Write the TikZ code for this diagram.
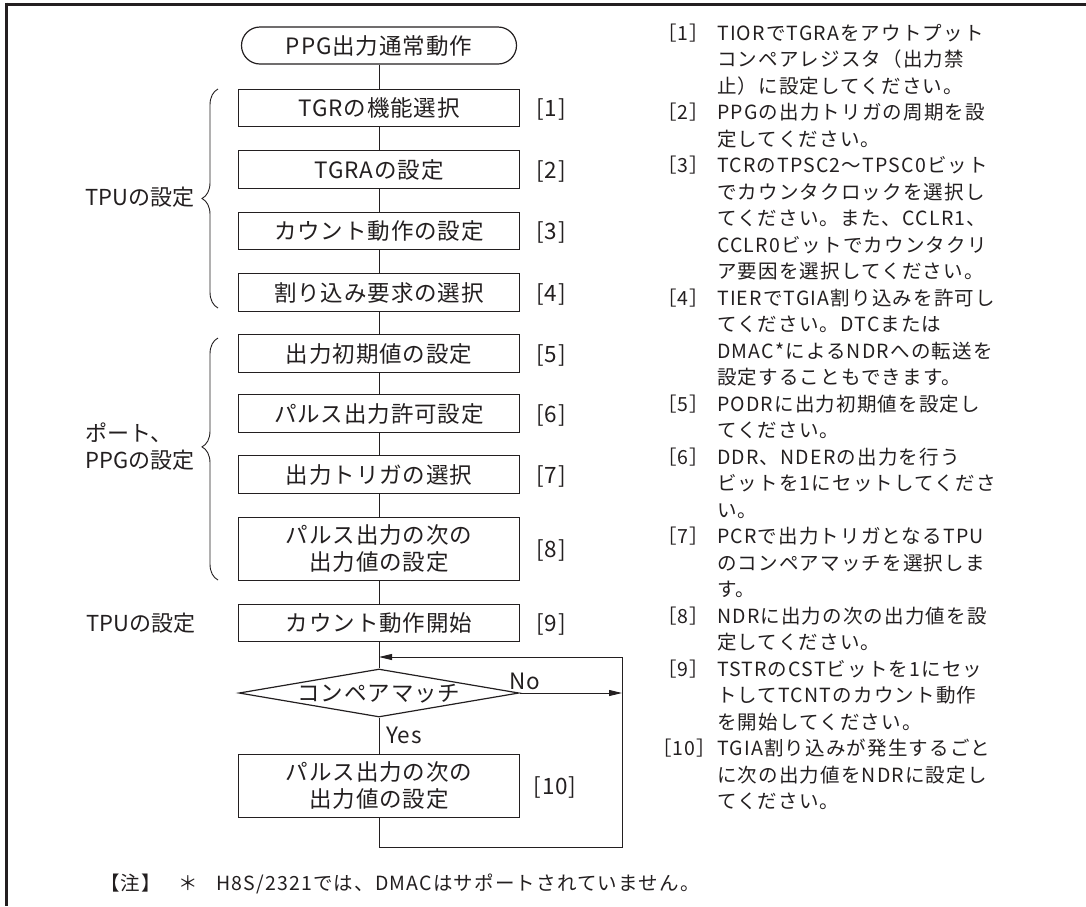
\documentclass[tikz,border=0pt]{standalone}
\usepackage{fontspec}
\usetikzlibrary{shapes.geometric,arrows.meta,decorations.pathreplacing}
\newfontfamily\jpfc[LetterSpace=4]{Noto Sans CJK JP}
\newfontfamily\jpgl{Noto Sans CJK JP}
\newfontfamily\jptx[LetterSpace=6]{Noto Sans CJK JP}
\newcommand\fcfont{\jpfc\fontsize{22.5pt}{27pt}\selectfont}
\newcommand\glfont{\jpgl\fontsize{22pt}{27pt}\selectfont}
\newcommand\txfont{\jptx\fontsize{19.5pt}{26.5pt}\selectfont}
\definecolor{ink}{HTML}{231F20}
\tikzset{
  fc/.style={font=\fcfont, text=ink, inner sep=0pt},
  slfc/.style={text height=19.8pt, text depth=2.7pt},
  tx/.style={font=\txfont, text=ink, inner sep=0pt, anchor=west, text height=17.2pt, text depth=2.3pt},
  bx/.style={fc, draw=ink, line width=1.2pt, minimum width=281pt, align=center},
  sbx/.style={bx, slfc, minimum height=37.5pt},
  dbx/.style={bx, minimum height=63pt},
  term/.style={fc, slfc, draw=ink, line width=1.2pt, rounded corners=18.5pt, minimum width=275pt, minimum height=37pt},
  dec/.style={fc, slfc, draw=ink, line width=1.2pt, diamond, aspect=5.83, minimum width=280pt, minimum height=48pt},
  ln/.style={draw=ink, line width=0.9pt},
  arr/.style={-{Triangle[length=13pt,width=6pt]}},
  brc/.style={draw=ink, line width=0.9pt, decorate},
  lbl/.style={fc, slfc},
  grp/.style={font=\glfont, text=ink, inner sep=0pt, anchor=west},
}
\begin{document}
\begin{tikzpicture}[x=1pt,y=-1pt]
\useasboundingbox (0,0) rectangle (1086,906);
% frame
\draw[ink, line width=3pt] (5,4) -- (1086,4);
\draw[ink, line width=3pt] (6.5,2.5) -- (6.5,906);

% flowchart
\node[term] (s) at (379,45.5) {PPG出力通常動作};
\node[sbx] (b1) at (379,108) {TGRの機能選択};
\node[sbx] (b2) at (379,169.5) {TGRAの設定};
\node[sbx] (b3) at (379,231) {カウント動作の設定};
\node[sbx] (b4) at (379,292.5) {割り込み要求の選択};
\node[sbx] (b5) at (379,353.5) {出力初期値の設定};
\node[sbx] (b6) at (379,413.5) {パルス出力許可設定};
\node[sbx] (b7) at (379,474.5) {出力トリガの選択};
\node[dbx] (b8) at (379,549) {パルス出力の次の\\出力値の設定};
\node[sbx] (b9) at (379,623) {カウント動作開始};
\node[dec] (d) at (379,693) {\makebox[0pt]{コンペアマッチ}};
\node[dbx] (b10) at (379,786) {パルス出力の次の\\出力値の設定};

\draw[ln] (s) -- (b1) -- (b2) -- (b3) -- (b4) -- (b5) -- (b6) -- (b7) -- (b8) -- (b9) -- (d) -- (b10);

\coordinate (lb) at (379,847);
\coordinate (rb) at (622,847);
\coordinate (rt) at (622,657);
\coordinate (lt) at (379,657);
\coordinate (rm) at (622,693);
\draw[ln] (b10.south) -- (lb) -- (rb) -- (rt);
\draw[ln, arr] (rt) -- (lt);
\draw[ln, arr] (d.east) -- (rm);

\node[lbl] (no) at (525,681) {No};
\node[lbl] (yes) at (404,735) {Yes};

% step numbers
\node[lbl] (n1) at (551,108) {[1]};
\node[lbl] (n2) at (551,169.5) {[2]};
\node[lbl] (n3) at (551,231) {[3]};
\node[lbl] (n4) at (551,292.5) {[4]};
\node[lbl] (n5) at (551,353.5) {[5]};
\node[lbl] (n6) at (551,413.5) {[6]};
\node[lbl] (n7) at (551,474.5) {[7]};
\node[lbl] (n8) at (551,549) {[8]};
\node[lbl] (n9) at (551,623) {[9]};
\node[lbl] (n10) at (555,786) {[10]};

% braces and group labels
\draw[brc, decoration={brace, amplitude=16pt, aspect=0.5}] (218,308) -- (218,89);
\draw[brc, decoration={brace, amplitude=16pt, aspect=0.55}] (218,580) -- (218,338);
\node[grp, text height=19.4pt, text depth=2.6pt] (g1) at (85,197) {TPUの設定};
\node[grp, align=left] (g2) at (85,447) {ポート、\\PPGの設定};
\node[grp, text height=19.4pt, text depth=2.6pt] (g3) at (86,623) {TPUの設定};

% right column notes
\node[tx] (k1) at (657,33) {［1］};
\node[tx] (r1) at (717,33) {TIORでTGRAをアウトプット};
\node[tx] (r2) at (717,59.5) {コンペアレジスタ（出力禁};
\node[tx] (r3) at (717,86) {止）に設定してください。};
\node[tx] (k2) at (657,112.5) {［2］};
\node[tx] (r4) at (717,112.5) {PPGの出力トリガの周期を設};
\node[tx] (r5) at (717,139) {定してください。};
\node[tx] (k3) at (657,165.5) {［3］};
\node[tx] (r6) at (717,165.5) {TCRのTPSC2〜TPSC0ビット};
\node[tx] (r7) at (717,192) {でカウンタクロックを選択し};
\node[tx] (r8) at (717,218.5) {てください。また、CCLR1、};
\node[tx] (r9) at (717,245) {CCLR0ビットでカウンタクリ};
\node[tx] (r10) at (717,271.5) {ア要因を選択してください。};
\node[tx] (k4) at (657,298) {［4］};
\node[tx] (r11) at (717,298) {TIERでTGIA割り込みを許可し};
\node[tx] (r12) at (717,324.5) {てください。DTCまたは};
\node[tx] (r13) at (717,351) {DMAC*によるNDRへの転送を};
\node[tx] (r14) at (717,377.5) {設定することもできます。};
\node[tx] (k5) at (657,404) {［5］};
\node[tx] (r15) at (717,404) {PODRに出力初期値を設定し};
\node[tx] (r16) at (717,430.5) {てください。};
\node[tx] (k6) at (657,457) {［6］};
\node[tx] (r17) at (717,457) {DDR、NDERの出力を行う};
\node[tx] (r18) at (717,483.5) {ビットを1にセットしてくださ};
\node[tx] (r19) at (717,510) {い。};
\node[tx] (k7) at (657,536.5) {［7］};
\node[tx] (r20) at (717,536.5) {PCRで出力トリガとなるTPU};
\node[tx] (r21) at (717,563) {のコンペアマッチを選択しま};
\node[tx] (r22) at (717,589.5) {す。};
\node[tx] (k8) at (657,616) {［8］};
\node[tx] (r23) at (717,616) {NDRに出力の次の出力値を設};
\node[tx] (r24) at (717,642.5) {定してください。};
\node[tx] (k9) at (657,669) {［9］};
\node[tx] (r25) at (717,669) {TSTRのCSTビットを1にセッ};
\node[tx] (r26) at (717,695.5) {トしてTCNTのカウント動作};
\node[tx] (r27) at (717,722) {を開始してください。};
\node[tx] (k10) at (652,748.5) {［10］};
\node[tx] (r28) at (717,748.5) {TGIA割り込みが発生するごと};
\node[tx] (r29) at (717,775) {に次の出力値をNDRに設定し};
\node[tx] (r30) at (717,801.5) {てください。};

% footnote
\node[tx] (f1) at (100,883) {【注】};
\node[tx] (f2) at (178,883) {＊};
\node[tx] (f3) at (216,883) {H8S/2321では、DMACはサポートされていません。};
\end{tikzpicture}
\end{document}
